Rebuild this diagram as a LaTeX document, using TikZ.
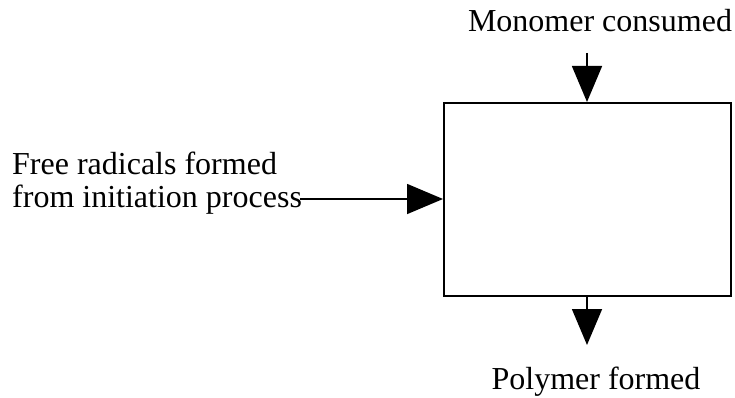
\documentclass[tikz,border=0pt]{standalone}
\usepackage{fontspec}
\setmainfont{Liberation Serif}
\usetikzlibrary{arrows.meta,positioning}

\tikzset{
  label text/.style={font=\fontsize{32}{33}\selectfont, inner sep=0pt},
  flow/.style={line width=1.6pt, -{Triangle[width=30pt,length=36pt]}}
}

\begin{document}
\begin{tikzpicture}[x=1pt,y=-1pt]
\useasboundingbox (0,0) rectangle (735,398);
\node [draw, line width=1.6pt, minimum width=287pt, minimum height=193pt, inner sep=0pt, anchor=north west] (reactor) at (443,102) {};

\node [label text, anchor=base] (monomer) at (600,32) {Monomer consumed};
\node [label text, anchor=base] (polymer) at (596,389) {Polymer formed};
\node [label text, anchor=base west, align=left] (radicals) at (12,207) {Free radicals formed\\from initiation process};

\coordinate (monomer in) at (587,53);
\coordinate (radicals in) at (300,199);
\coordinate (polymer out) at (587,345);

\draw [flow] (monomer in) -- (monomer in |- reactor.north);
\draw [flow] (radicals in) -- (radicals in -| reactor.west);
\draw [flow] (polymer out |- reactor.south) -- (polymer out);
\end{tikzpicture}
\end{document}
